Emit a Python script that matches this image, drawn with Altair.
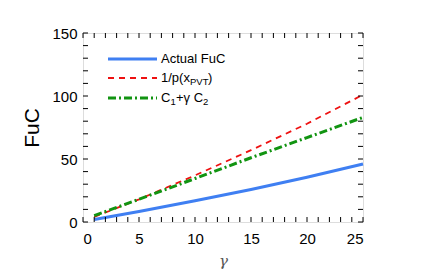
import altair as alt
import pandas as pd

gamma = [1, 5, 10, 15, 20, 25]
actual_fuc = [2, 8.3, 16.8, 25.8, 35.5, 46]
inv_p = [4, 18, 37, 57, 78, 101]
c1_gamma_c2 = [5, 18, 34.5, 51, 67, 83]

x_ticks = list(range(0, 26))
y_ticks = list(range(0, 151, 10))
x_labels = [0, 5, 10, 15, 20, 25]
y_labels = [0, 50, 100, 150]

W, H = 280, 189
FONT = "Liberation Sans"

df = pd.DataFrame({"g": gamma, "a": actual_fuc, "p": inv_p, "c": c1_gamma_c2})
xs = alt.Scale(domain=[0, 25], nice=False, zero=False)
ys = alt.Scale(domain=[0, 150], nice=False)

xaxis = alt.Axis(values=x_labels, ticks=False, domain=False, grid=False, labelPadding=9,
                 labelFontSize=15, labelFont=FONT, labelColor="black", title="γ",
                 titleFont="DejaVu Serif", titleFontStyle="italic", titleFontWeight="normal",
                 titleFontSize=15, titleColor="#555", titlePadding=7)
yaxis = alt.Axis(values=y_labels, ticks=False, domain=False, grid=False, labelPadding=6,
                 labelFontSize=15, labelFont=FONT, labelColor="black", title="FuC",
                 titleFont=FONT, titleFontWeight="normal", titleFontSize=21,
                 titleColor="black", titlePadding=9)

base = alt.Chart(df)
blue = base.mark_line(color="#3f7ff2", strokeWidth=3).encode(
    x=alt.X("g:Q", scale=xs, axis=xaxis), y=alt.Y("a:Q", scale=ys, axis=yaxis))
red = base.mark_line(color="#ee1111", strokeWidth=1.8, strokeDash=[6, 5]).encode(
    x=alt.X("g:Q", scale=xs), y=alt.Y("p:Q", scale=ys))
green = base.mark_line(color="#119411", strokeWidth=3, strokeDash=[8, 3, 2, 3]).encode(
    x=alt.X("g:Q", scale=xs), y=alt.Y("c:Q", scale=ys))

xt = alt.Chart(pd.DataFrame({"t": x_ticks}))
yt = alt.Chart(pd.DataFrame({"t": y_ticks}))
tk = dict(color="black", strokeWidth=1)
ticks = [
    xt.mark_rule(**tk).encode(x=alt.X("t:Q", scale=xs), y=alt.value(H), y2=alt.value(H - 5)),
    xt.mark_rule(**tk).encode(x=alt.X("t:Q", scale=xs), y=alt.value(0), y2=alt.value(5)),
    yt.mark_rule(**tk).encode(y=alt.Y("t:Q", scale=ys), x=alt.value(0), x2=alt.value(5)),
    yt.mark_rule(**tk).encode(y=alt.Y("t:Q", scale=ys), x=alt.value(W), x2=alt.value(W - 5)),
]

one = pd.DataFrame({"k": [0]})
lg = alt.Chart(one)
lx0, lx1, tx = 25, 74, 78
ly = [26, 45, 65]
legend = [
    lg.mark_rule(color="#3f7ff2", strokeWidth=3).encode(x=alt.value(lx0), x2=alt.value(lx1), y=alt.value(ly[0])),
    lg.mark_rule(color="#ee1111", strokeWidth=1.8, strokeDash=[6, 5]).encode(x=alt.value(lx0), x2=alt.value(lx1), y=alt.value(ly[1])),
    lg.mark_rule(color="#119411", strokeWidth=3, strokeDash=[8, 3, 2, 3]).encode(x=alt.value(lx0), x2=alt.value(lx1), y=alt.value(ly[2])),
]
def txt(s, x, y, size=13):
    return lg.mark_text(text=s, align="left", baseline="middle", fontSize=size, font=FONT,
                        color="black").encode(x=alt.value(x), y=alt.value(y))
texts = [
    txt("Actual FuC", tx, ly[0]),
    txt("1/p(x", tx, ly[1]),
    txt("PVT", tx + 29, ly[1] + 4, 9.5),
    txt(")", tx + 47, ly[1]),
    txt("C", tx, ly[2]),
    txt("1", tx + 9.5, ly[2] + 4, 9.5),
    txt("+γ C", tx + 15, ly[2]),
    txt("2", tx + 42, ly[2] + 4, 9.5),
]

chart = alt.layer(blue, red, green, *ticks, *legend, *texts).properties(
    width=W, height=H, autosize=alt.AutoSizeParams(type="none"),
    padding={"left": 75, "top": 25, "right": 50, "bottom": 57},
).configure_view(stroke="black", strokeWidth=1.5).configure(background="white")

chart.save("out.html", embed_options={"renderer": "svg", "actions": False})
